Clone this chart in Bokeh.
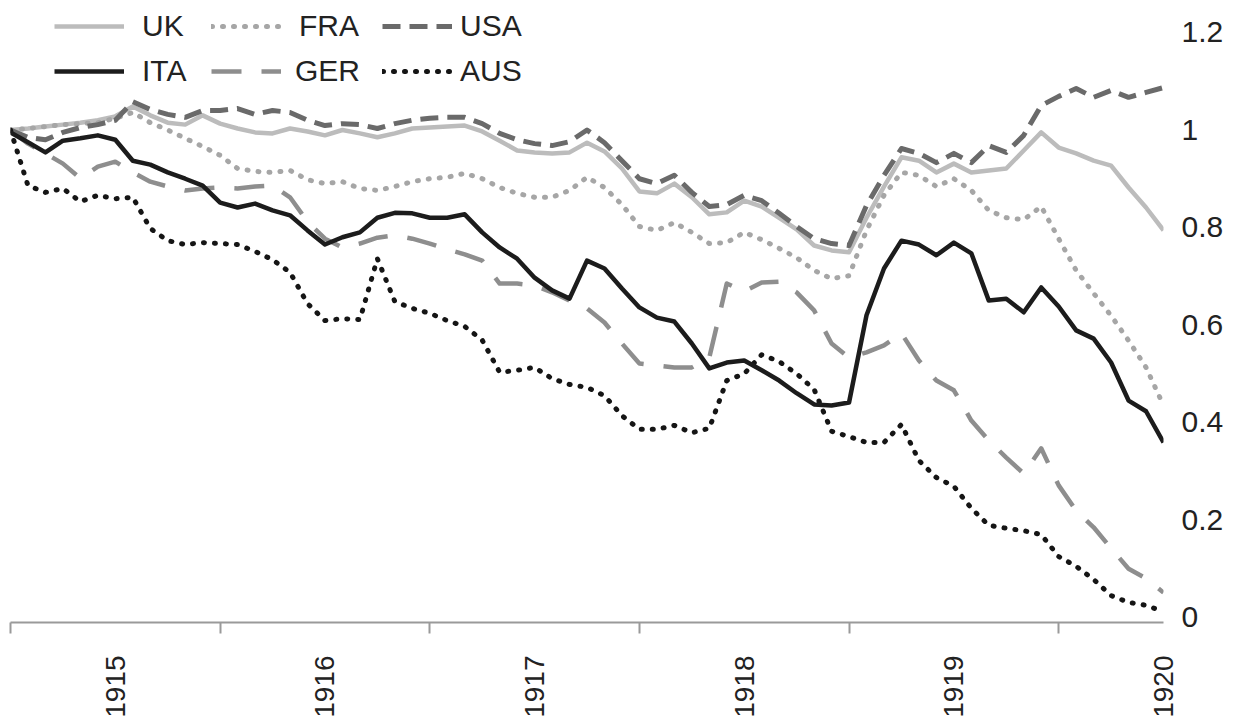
import math
from bokeh.plotting import figure
from bokeh.models import Legend, LegendItem, FixedTicker, Range1d
from bokeh.embed import file_html
from bokeh.resources import INLINE

# monthly index 0..66 (mid-1914 .. 1920)
months = list(range(67))
year_labels = ["1915", "1916", "1917", "1918", "1919", "1920"]
year_label_pos = [6, 18, 30, 42, 54, 66]
year_bounds = [0, 12, 24, 36, 48, 60]
y_ticks = [0, 0.2, 0.4, 0.6, 0.8, 1.0, 1.2]
y_tick_labels = ["0", "0.2", "0.4", "0.6", "0.8", "1", "1.2"]

UK = [1.0, 1.003, 1.007, 1.011, 1.015, 1.02, 1.028, 1.048, 1.03, 1.015,
      1.011, 1.03, 1.013, 1.003, 0.995, 0.993, 1.003, 0.997, 0.989, 1.0,
      0.993, 0.985, 0.993, 1.003, 1.005, 1.007, 1.009, 0.997, 0.978, 0.958,
      0.954, 0.952, 0.954, 0.974, 0.956, 0.921, 0.874, 0.87, 0.89, 0.862,
      0.827, 0.831, 0.855, 0.843, 0.82, 0.796, 0.763, 0.753, 0.749, 0.82,
      0.884, 0.944, 0.937, 0.913, 0.931, 0.913, 0.917, 0.921, 0.958, 0.995,
      0.964, 0.952, 0.937, 0.927, 0.882, 0.841, 0.794]
FRA = [1.0, 1.003, 1.007, 1.011, 1.013, 1.015, 1.024, 1.036, 1.015, 1.0,
       0.983, 0.966, 0.948, 0.921, 0.915, 0.913, 0.917, 0.898, 0.89, 0.894,
       0.88, 0.876, 0.884, 0.894, 0.90, 0.903, 0.911, 0.90, 0.882, 0.87,
       0.862, 0.862, 0.876, 0.903, 0.882, 0.847, 0.802, 0.794, 0.81, 0.79,
       0.767, 0.769, 0.79, 0.775, 0.757, 0.738, 0.712, 0.695, 0.701, 0.794,
       0.866, 0.913, 0.907, 0.884, 0.90, 0.876, 0.835, 0.82, 0.816, 0.843,
       0.777, 0.712, 0.665, 0.619, 0.568, 0.513, 0.435]
USA = [1.0, 0.985, 0.98, 0.995, 1.005, 1.011, 1.02, 1.058, 1.042, 1.032,
       1.026, 1.04, 1.04, 1.044, 1.032, 1.04, 1.036, 1.02, 1.009, 1.013,
       1.011, 1.003, 1.013, 1.02, 1.024, 1.026, 1.026, 1.013, 0.993, 0.98,
       0.972, 0.968, 0.976, 1.0, 0.974, 0.937, 0.90, 0.89, 0.907, 0.872,
       0.843, 0.847, 0.866, 0.855, 0.829, 0.802, 0.777, 0.767, 0.763, 0.845,
       0.907, 0.962, 0.952, 0.933, 0.952, 0.933, 0.968, 0.954, 0.989, 1.05,
       1.069, 1.085, 1.067, 1.081, 1.067, 1.077, 1.087]
ITA = [0.995, 0.975, 0.954, 0.978, 0.983, 0.989, 0.98, 0.937, 0.929, 0.913,
       0.90, 0.886, 0.851, 0.841, 0.849, 0.835, 0.825, 0.794, 0.765, 0.78,
       0.79, 0.82, 0.83, 0.829, 0.82, 0.82, 0.827, 0.79, 0.759, 0.736,
       0.697, 0.671, 0.654, 0.732, 0.716, 0.675, 0.636, 0.615, 0.607, 0.562,
       0.511, 0.523, 0.527, 0.507, 0.486, 0.46, 0.437, 0.435, 0.441, 0.62,
       0.716, 0.773, 0.765, 0.743, 0.769, 0.747, 0.65, 0.654, 0.626, 0.677,
       0.638, 0.589, 0.572, 0.523, 0.445, 0.423, 0.359]
GER = [1.0, 0.972, 0.952, 0.931, 0.901, 0.925, 0.935, 0.913, 0.894, 0.884,
       0.876, 0.88, 0.882, 0.88, 0.884, 0.886, 0.862, 0.812, 0.777, 0.759,
       0.767, 0.779, 0.784, 0.777, 0.767, 0.755, 0.745, 0.732, 0.685, 0.685,
       0.681, 0.667, 0.65, 0.634, 0.605, 0.562, 0.521, 0.517, 0.513, 0.513,
       0.533, 0.685, 0.669, 0.687, 0.689, 0.667, 0.63, 0.562, 0.533, 0.544,
       0.558, 0.583, 0.527, 0.486, 0.466, 0.404, 0.363, 0.328, 0.295, 0.347,
       0.271, 0.219, 0.185, 0.142, 0.10, 0.08, 0.051]
AUS = [1.0, 0.886, 0.872, 0.88, 0.853, 0.866, 0.859, 0.862, 0.798, 0.773,
       0.765, 0.769, 0.767, 0.765, 0.751, 0.734, 0.708, 0.644, 0.609, 0.613,
       0.611, 0.736, 0.648, 0.634, 0.624, 0.609, 0.597, 0.569, 0.503, 0.507,
       0.513, 0.49, 0.478, 0.472, 0.455, 0.414, 0.386, 0.386, 0.394, 0.379,
       0.388, 0.486, 0.50, 0.539, 0.525, 0.50, 0.468, 0.382, 0.371, 0.359,
       0.359, 0.396, 0.322, 0.287, 0.269, 0.224, 0.189, 0.183, 0.178, 0.17,
       0.125, 0.105, 0.078, 0.045, 0.031, 0.025, 0.012]

FONT = "Liberation Sans"
TXT = "#222222"

p = figure(frame_width=1153, frame_height=614, output_backend="svg",
           toolbar_location=None, x_range=Range1d(0, 66),
           y_range=Range1d(-0.0103, 1.2492), y_axis_location="right",
           min_border=0, min_border_left=10, min_border_top=8)
p.outline_line_color = None
p.xgrid.visible = False
p.ygrid.visible = False

r_uk = p.line(months, UK, line_color="#bcbcbc", line_width=4.5, line_join="round")
r_fra = p.line(months, FRA, line_color="#a6a6a6", line_width=5, line_dash="1 10",
               line_cap="round", line_join="round")
r_ger = p.line(months, GER, line_color="#8e8e8e", line_width=4.5, line_dash="30 20",
               line_join="round")
r_usa = p.line(months, USA, line_color="#6a6a6a", line_width=5, line_dash="18 9",
               line_join="round")
r_aus = p.line(months, AUS, line_color="#151515", line_width=5, line_dash="1 10",
               line_cap="round", line_join="round")
r_ita = p.line(months, ITA, line_color="#1c1c1c", line_width=4.5, line_join="round")

# x axis
xa = p.xaxis[0]
xa.ticker = FixedTicker(ticks=year_label_pos, minor_ticks=year_bounds)
xa.major_label_overrides = {k: v for k, v in zip(year_label_pos, year_labels)}
xa.major_tick_in = 0
xa.major_tick_out = 0
xa.major_tick_line_color = None
xa.minor_tick_in = 0
xa.minor_tick_out = 11
xa.minor_tick_line_color = "#9a9a9a"
xa.minor_tick_line_width = 2
xa.axis_line_color = "#9a9a9a"
xa.axis_line_width = 2
xa.major_label_orientation = math.pi / 2
xa.major_label_standoff = 22
xa.major_label_text_font = FONT
xa.major_label_text_font_size = "28px"
xa.major_label_text_color = TXT

# y axis (right)
ya = p.yaxis[0]
ya.ticker = FixedTicker(ticks=y_ticks)
ya.major_label_overrides = {k: v for k, v in zip(y_ticks, y_tick_labels)}
ya.axis_line_color = None
ya.major_tick_line_color = None
ya.minor_tick_line_color = None
ya.major_tick_out = 0
ya.major_label_standoff = 18
ya.major_label_text_font = FONT
ya.major_label_text_font_size = "30px"
ya.major_label_text_color = TXT


def make_legend(label, renderer, loc, standoff):
    return Legend(items=[LegendItem(label=label, renderers=[renderer])],
                  location=loc, glyph_width=70, glyph_height=34,
                  label_standoff=standoff, spacing=0, padding=0, margin=0,
                  border_line_alpha=0, background_fill_alpha=0,
                  label_text_font=FONT, label_text_font_size="30px",
                  label_text_color=TXT)


legend_specs = [("UK", r_uk, (44, 579), 18), ("FRA", r_fra, (201, 579), 18),
                ("USA", r_usa, (372, 579), 8), ("ITA", r_ita, (44, 534), 18),
                ("GER", r_ger, (201, 534), 14), ("AUS", r_aus, (372, 534), 8)]
for lab, rend, loc, so in legend_specs:
    p.add_layout(make_legend(lab, rend, loc, so))

open("out.html", "w").write(file_html(p, INLINE))
